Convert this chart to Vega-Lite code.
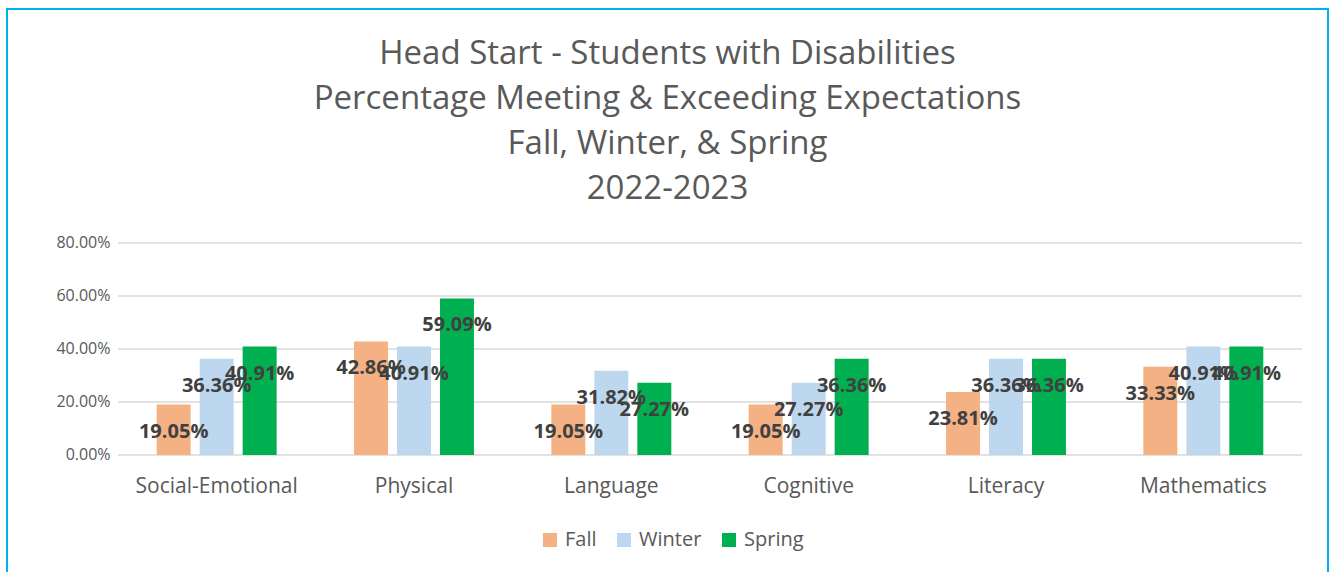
{
  "$schema": "https://vega.github.io/schema/vega-lite/v6.json",
  "autosize": {"type": "none"},
  "width": 1321,
  "height": 565,
  "padding": {"left": 7, "top": 9, "right": 2, "bottom": -2},
  "background": "#ffffff",
  "title": {
    "text": ["Head Start - Students with Disabilities", "Percentage Meeting & Exceeding Expectations", "Fall, Winter, & Spring", "2022-2023"],
    "anchor": "middle",
    "frame": "group",
    "offset": -197,
    "font": "Open Sans",
    "fontSize": 33,
    "fontWeight": "normal",
    "lineHeight": 45,
    "color": "#595959"
  },
  "encoding": {
    "y": {
      "field": "pct",
      "type": "quantitative",
      "scale": {"domain": [-0.44906, 1.68302], "nice": false, "zero": false},
      "axis": {
        "title": null,
        "values": [0, 0.2, 0.4, 0.6, 0.8],
        "format": ".2%",
        "offset": -111,
        "grid": false,
        "domain": false,
        "ticks": false,
        "labelPadding": 8,
        "labelFont": "Open Sans",
        "labelFontSize": 16,
        "labelColor": "#595959"
      }
    }
  },
  "layer": [
    {
      "data": {"values": [{"pct": 0}, {"pct": 0.2}, {"pct": 0.4}, {"pct": 0.6}, {"pct": 0.8}]},
      "mark": {"type": "rule", "color": "#d9d9d9", "strokeWidth": 1.5},
      "encoding": {
        "x": {"datum": 0, "type": "quantitative", "scale": {"domain": [-0.09375, 1.02196], "nice": false, "zero": false}, "axis": null},
        "x2": {"datum": 1}
      }
    },
    {
      "data": {
        "values": [
          {"domain": "Social-Emotional", "season": "Fall", "pct": 0.1905},
          {"domain": "Social-Emotional", "season": "Winter", "pct": 0.3636},
          {"domain": "Social-Emotional", "season": "Spring", "pct": 0.4091},
          {"domain": "Physical", "season": "Fall", "pct": 0.4286},
          {"domain": "Physical", "season": "Winter", "pct": 0.4091},
          {"domain": "Physical", "season": "Spring", "pct": 0.5909},
          {"domain": "Language", "season": "Fall", "pct": 0.1905},
          {"domain": "Language", "season": "Winter", "pct": 0.3182},
          {"domain": "Language", "season": "Spring", "pct": 0.2727},
          {"domain": "Cognitive", "season": "Fall", "pct": 0.1905},
          {"domain": "Cognitive", "season": "Winter", "pct": 0.2727},
          {"domain": "Cognitive", "season": "Spring", "pct": 0.3636},
          {"domain": "Literacy", "season": "Fall", "pct": 0.2381},
          {"domain": "Literacy", "season": "Winter", "pct": 0.3636},
          {"domain": "Literacy", "season": "Spring", "pct": 0.3636},
          {"domain": "Mathematics", "season": "Fall", "pct": 0.3333},
          {"domain": "Mathematics", "season": "Winter", "pct": 0.4091},
          {"domain": "Mathematics", "season": "Spring", "pct": 0.4091}
        ]
      },
      "encoding": {
        "x": {
          "field": "domain",
          "type": "nominal",
          "sort": null,
          "scale": {"paddingInner": 0, "paddingOuter": 0.34713, "align": 0.8102},
          "axis": {
            "title": null,
            "labelAngle": 0,
            "offset": -119,
            "domain": false,
            "ticks": false,
            "labelPadding": 20,
            "labelFont": "Open Sans",
            "labelFontSize": 21,
            "labelColor": "#595959"
          }
        },
        "xOffset": {
          "field": "season",
          "type": "nominal",
          "sort": ["Fall", "Winter", "Spring"],
          "scale": {"domain": ["Fall", "Winter", "Spring"], "paddingInner": 0.21, "paddingOuter": 0.9}
        }
      },
      "layer": [
        {
          "mark": {"type": "bar"},
          "encoding": {
            "y2": {"datum": 0},
            "color": {
              "field": "season",
              "type": "nominal",
              "scale": {"domain": ["Fall", "Winter", "Spring"], "range": ["#F4B183", "#BDD7EE", "#00B050"]},
              "legend": {
                "title": null,
                "orient": "none",
                "direction": "horizontal",
                "legendX": 533,
                "legendY": 521,
                "symbolType": "square",
                "symbolSize": 196,
                "symbolStrokeWidth": 0,
                "labelFont": "Open Sans",
                "labelFontSize": 20,
                "labelColor": "#595959",
                "labelOffset": 5,
                "columnPadding": 17
              }
            }
          }
        },
        {
          "mark": {"type": "text", "font": "Open Sans", "fontWeight": "bold", "fontSize": 20, "color": "#404040", "baseline": "middle", "dy": 27},
          "encoding": {
            "text": {"field": "pct", "type": "quantitative", "format": ".2%"}
          }
        }
      ]
    }
  ],
  "resolve": {"scale": {"x": "independent"}, "axis": {"x": "independent"}},
  "config": {
    "view": {"stroke": "#00B0F0", "strokeWidth": 2}
  }
}
